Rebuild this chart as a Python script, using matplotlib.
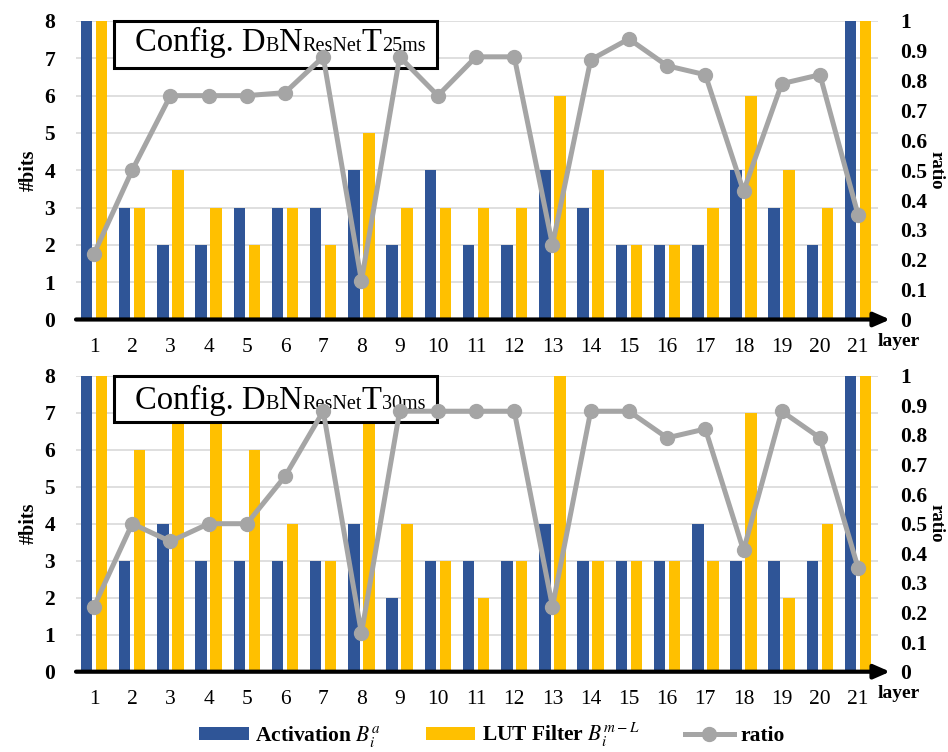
import matplotlib
matplotlib.use("Agg")
import matplotlib.pyplot as plt
import numpy as np
from matplotlib.patches import Rectangle, Patch
from matplotlib.lines import Line2D

# ---------------- data ----------------
layers = list(range(1, 22))

act_25 = [8, 3, 2, 2, 3, 3, 3, 4, 2, 4, 2, 2, 4, 3, 2, 2, 2, 4, 3, 2, 8]
lut_25 = [8, 3, 4, 3, 2, 3, 2, 5, 3, 3, 3, 3, 6, 4, 2, 2, 3, 6, 4, 3, 8]
ratio_25 = [0.22, 0.50, 0.75, 0.75, 0.75, 0.76, 0.88, 0.13, 0.88, 0.75, 0.88,
            0.88, 0.25, 0.87, 0.94, 0.85, 0.82, 0.43, 0.79, 0.82, 0.35]

act_30 = [8, 3, 4, 3, 3, 3, 3, 4, 2, 3, 3, 3, 4, 3, 3, 3, 4, 3, 3, 3, 8]
lut_30 = [8, 6, 7, 7, 6, 4, 3, 7, 4, 3, 2, 3, 8, 3, 3, 3, 3, 7, 2, 4, 8]
ratio_30 = [0.22, 0.50, 0.44, 0.50, 0.50, 0.66, 0.88, 0.13, 0.88, 0.88, 0.88,
            0.88, 0.22, 0.88, 0.88, 0.79, 0.82, 0.41, 0.88, 0.79, 0.35]

bits_ticks = list(range(0, 9))
ratio_ticks = [0, 0.1, 0.2, 0.3, 0.4, 0.5, 0.6, 0.7, 0.8, 0.9, 1]
ratio_ticklabels = ["0", "0.1", "0.2", "0.3", "0.4", "0.5", "0.6", "0.7", "0.8", "0.9", "1"]

# ---------------- style ----------------
BLUE = "#2F5597"
YELLOW = "#FFC000"
GRAY = "#A5A5A5"
GRID = "#D9D9D9"

plt.rcParams["font.family"] = ["Liberation Serif", "DejaVu Serif"]
plt.rcParams["mathtext.fontset"] = "stix"

W, H = 948, 752
fig = plt.figure(figsize=(W / 100, H / 100), dpi=100)

ax_left = 76 / W
ax_width = (878 - 76) / W
panels = [
    dict(bottom=1 - 319.5 / H, height=298.5 / H, act=act_25, lut=lut_25,
         ratio=ratio_25, sub="25ms", base=0.898),
    dict(bottom=1 - 671.7 / H, height=296 / H, act=act_30, lut=lut_30,
         ratio=ratio_30, sub="30ms", base=0.888),
]

x = np.array(layers, dtype=float)
bw = 0.30
off = 0.196

for p in panels:
    ax = fig.add_axes([ax_left, p["bottom"], ax_width, p["height"]])
    ax.set_xlim(0.529, 21.52)
    ax.set_ylim(0, 8)
    ax.set_yticks(bits_ticks)
    ax.yaxis.grid(True, color=GRID, linewidth=1.2, zorder=0)
    ax.set_axisbelow(True)
    for s in ax.spines.values():
        s.set_visible(False)
    ax.bar(x - off, p["act"], width=bw, color=BLUE, zorder=2)
    ax.bar(x + off, p["lut"], width=bw, color=YELLOW, zorder=2)
    ax.set_xticks(layers)
    ax.set_xticklabels([str(l) for l in layers])
    ax.tick_params(axis="x", length=0, pad=13, labelsize=15.5)
    ax.tick_params(axis="y", length=0, pad=15, labelsize=15.5)
    for t in ax.get_yticklabels():
        t.set_fontweight("bold")
    ax.set_ylabel("#bits", fontsize=14.5, fontweight="bold", va="center")
    ax.yaxis.set_label_coords(-0.0586, 0.5)

    # x axis arrow
    ax.annotate("", xy=(1.015, 0), xytext=(0, 0), xycoords="axes fraction",
                textcoords="axes fraction",
                arrowprops=dict(arrowstyle="-|>,head_length=0.8,head_width=0.35",
                                lw=3, color="black", shrinkA=0, shrinkB=0,
                                mutation_scale=12),
                zorder=6)
    ax.text(1.0, -0.075, "layer", transform=ax.transAxes, ha="left",
            va="center", fontsize=14, fontweight="bold")

    # title box
    box = Rectangle((0.0474, 0.844), 0.4027, 0.156, transform=ax.transAxes,
                    facecolor="white", edgecolor="black", linewidth=2.2,
                    zorder=5, clip_on=False)
    ax.add_patch(box)
    big, small = 23.5, 14.5
    pieces = [("Config. D", big), ("B", small), ("N", big), ("ResNet", small),
              ("T", big), (p["sub"], small)]
    prev = ax.text(0.0736, p["base"], pieces[0][0], transform=ax.transAxes,
                   ha="left", va="baseline", fontsize=pieces[0][1], zorder=6)
    for txt, fs in pieces[1:]:
        prev = ax.annotate(txt, xy=(1.0, p["base"]),
                           xycoords=(prev, "axes fraction"),
                           ha="left", va="baseline", fontsize=fs, zorder=6)

    # ratio axis
    ax2 = ax.twinx()
    ax2.set_ylim(0, 1)
    for s in ax2.spines.values():
        s.set_visible(False)
    ax2.set_yticks(ratio_ticks)
    ax2.set_yticklabels(ratio_ticklabels)
    ax2.tick_params(axis="y", length=0, pad=16, labelsize=15.5)
    for t in ax2.get_yticklabels():
        t.set_fontweight("bold")
    ax2.plot(x, p["ratio"], color=GRAY, linewidth=3.6, marker="o",
             markersize=10, zorder=7)
    ax2.set_ylabel("ratio", rotation=270, fontsize=13.5, fontweight="bold",
                   va="center")
    ax2.yaxis.set_label_coords(1.072, 0.5)

handles = [Patch(facecolor=BLUE), Patch(facecolor=YELLOW),
           Line2D([], [], color=GRAY, lw=3.6, marker="o", markersize=10)]
labels = ["Activation $B_i^a$", "LUT Filter $B_i^{m\u2212L}$", "ratio"]
fig.legend(handles, labels, loc="center", bbox_to_anchor=(492 / W, 1 - 735 / H),
           ncol=3, frameon=False, prop=dict(weight="bold", size=15.5),
           handlelength=2.3, handleheight=0.55, handletextpad=0.3,
           columnspacing=2.1)

fig.savefig("out.png", dpi=100)
